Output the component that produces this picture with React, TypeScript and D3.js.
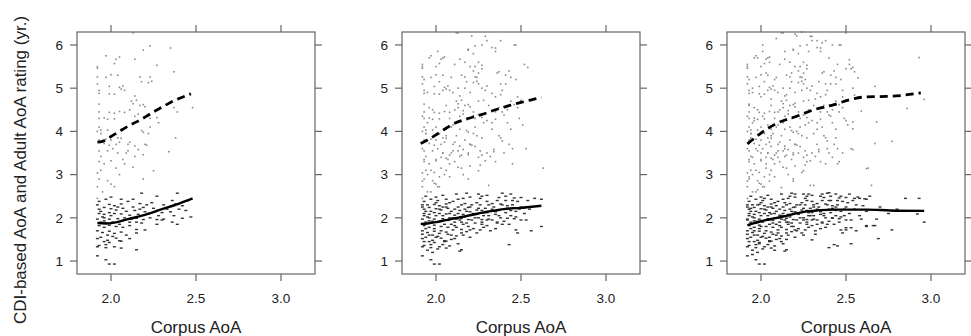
import React from "react";
import * as d3 from "d3";

type P = [number, number];

// tick labels and axis titles
const xTicks = [2.0, 2.5, 3.0];
const yTicks = [1, 2, 3, 4, 5, 6];
const xTitle = "Corpus AoA";
const yTitle = "CDI-based AoA and Adult AoA rating (yr.)";

// adult AoA ratings (grey dots), panel 1
const adultBase: P[] = [
  [2.23,5.98],[2.19,5.88],[2.35,5.93],[1.97,5.75],[2.05,5.72],[2.03,5.67],[2.14,5.67],[1.92,5.5],[2.02,5.57],[2.27,5.53],
  [2.37,5.38],[1.92,5.26],[1.97,5.25],[2.0,5.31],[2.04,5.3],[2.17,5.26],[2.23,5.26],[1.92,5.1],[1.99,5.04],[2.05,5.02],
  [2.06,4.98],[2.07,5.05],[2.08,4.95],[2.18,5.15],[2.22,5.13],[2.24,5.16],[1.93,4.88],[1.99,4.87],[2.02,4.86],[2.14,4.82],
  [1.93,4.63],[2.12,4.7],[2.15,4.72],[2.13,4.64],[2.17,4.6],[2.19,4.62],[2.2,4.57],[2.37,4.55],[2.48,4.55],[2.39,4.45],
  [1.93,4.45],[1.99,4.44],[2.02,4.42],[2.05,4.46],[2.08,4.44],[2.11,4.5],[2.14,4.35],[2.16,4.4],[1.93,4.3],[1.96,4.31],
  [1.98,4.28],[2.02,4.29],[2.22,4.36],[2.23,4.3],[2.27,4.32],[2.23,4.1],[2.28,4.2],[1.93,4.1],[1.94,4.03],[1.98,4.03],
  [2.06,4.05],[2.09,4.1],[2.18,4.02],[2.19,3.98],[2.22,3.95],[2.38,3.85],[1.93,3.8],[1.97,3.82],[2.0,3.8],[1.96,3.72],
  [1.99,3.68],[2.04,3.85],[2.06,3.84],[2.05,3.75],[2.11,3.75],[2.14,3.66],[2.03,3.7],[2.1,3.7],[2.2,3.7],[2.21,3.68],
  [1.92,3.04],[1.93,2.9],[1.98,2.86],[1.92,2.72],[2.02,2.72],[2.19,2.9],[2.25,3.09],[2.13,3.17],[2.07,3.35],[1.94,3.42],
  [1.98,3.55],[2.04,3.5],[2.14,3.42],[2.19,3.46],[2.09,3.5],[2.34,3.53],[1.94,3.1],[2.03,3.15],[2.16,3.58],[1.96,3.25],
  [1.93,3.3],[2.0,3.32],[2.05,3.0],[1.95,2.6],[1.92,2.45],[2.0,2.78],[2.1,3.55],[2.01,3.6],[1.93,3.55],[2.08,3.25],
  [1.92,5.46],[1.93,4.95],[1.92,4.0],[1.94,3.95],[2.13,6.28],
];

// CDI-based AoA (dark dashes), panel 1
const cdiBase: P[] = [
  [2.18,2.57],[2.27,2.5],[2.39,2.57],[1.97,2.43],[2.06,2.43],[2.13,2.43],[1.92,2.3],[1.99,2.31],[2.02,2.28],[2.06,2.32],
  [2.17,2.33],[2.21,2.3],[2.24,2.35],[2.31,2.3],[2.38,2.32],[2.42,2.28],[1.93,2.2],[1.96,2.24],[2.0,2.21],[2.03,2.18],
  [2.07,2.22],[2.14,2.17],[2.17,2.2],[2.2,2.14],[2.27,2.17],[2.3,2.12],[2.35,2.14],[2.44,2.17],[1.93,2.1],[1.96,2.08],
  [1.99,2.12],[2.02,2.1],[2.06,2.09],[2.11,2.06],[2.15,1.99],[2.19,1.96],[2.23,2.0],[2.27,1.96],[2.31,1.97],[2.37,2.05],
  [1.92,1.97],[1.96,1.93],[1.99,1.97],[2.04,1.98],[2.07,1.94],[2.11,1.9],[2.15,1.9],[2.18,1.88],[2.27,1.85],[2.3,1.95],
  [2.36,1.9],[2.39,1.85],[2.42,1.99],[2.47,2.02],[1.93,1.82],[1.96,1.78],[1.99,1.83],[2.03,1.8],[2.07,1.78],[2.11,1.82],
  [2.15,1.73],[2.2,1.72],[1.92,1.7],[1.95,1.66],[1.99,1.69],[2.02,1.64],[2.06,1.67],[1.98,1.6],[2.01,1.57],[2.09,1.6],
  [2.15,1.65],[1.92,1.52],[1.94,1.55],[1.98,1.48],[2.03,1.53],[2.05,1.47],[2.11,1.52],[1.96,1.45],[1.99,1.43],[2.06,1.46],
  [1.93,1.36],[1.97,1.38],[2.15,1.26],[1.92,1.33],[1.97,1.31],[2.02,1.33],[2.06,1.3],[1.92,1.12],[1.97,1.03],[1.99,0.93],
  [2.02,0.93],[1.94,2.15],[1.95,2.02],[1.97,1.88],[2.0,2.05],[2.01,1.9],[2.04,2.25],[2.05,1.85],[2.08,2.0],[2.09,2.15],
  [2.12,1.97],[2.13,2.25],[2.16,2.08],[2.19,2.24],[2.22,2.1],[2.25,2.22],[2.28,2.05],[2.33,2.2],[2.36,2.4],[2.4,2.2],
  [2.45,2.4],[2.1,2.38],[1.93,2.38],[2.0,2.48],[1.94,1.9],[1.96,2.0],
];

// points added in panel 2
const adultAdd2: P[] = [
  [2.21,6.21],[2.29,6.2],[2.3,6.1],[2.12,6.28],[2.46,6.0],[2.47,6.0],[2.33,5.94],[2.19,5.9],[2.04,5.7],[2.01,5.85],
  [2.35,5.85],[2.52,5.55],[2.54,5.48],[2.25,5.6],[2.23,5.5],[2.27,5.45],[2.2,5.5],[2.22,5.4],[2.25,5.35],[2.43,5.4],
  [2.41,5.3],[2.44,5.25],[2.38,5.1],[2.41,5.1],[2.25,5.1],[2.27,5.0],[2.3,5.05],[2.17,5.0],[2.2,4.9],[2.33,4.88],
  [2.35,4.8],[2.38,4.85],[2.25,4.7],[2.28,4.72],[2.44,4.7],[2.46,4.62],[2.48,4.8],[2.5,4.72],[2.13,4.55],[2.16,4.48],
  [2.35,4.45],[2.4,4.38],[2.22,4.45],[2.25,4.38],[2.51,4.15],[2.3,4.25],[2.33,4.2],[2.35,4.28],[2.42,4.2],[2.44,4.05],
  [2.24,3.9],[2.27,3.85],[2.37,3.9],[2.39,3.78],[2.43,3.7],[2.45,3.6],[2.2,3.7],[2.23,3.65],[2.26,3.55],[2.13,3.55],
  [2.15,3.45],[2.3,3.5],[2.32,3.42],[2.34,3.58],[2.25,3.4],[2.27,3.45],[2.29,3.32],[2.4,3.5],[2.45,3.25],[2.53,3.6],
  [2.63,3.15],[2.31,2.75],[2.2,3.2],[2.26,3.22],[2.04,3.5],[2.06,3.38],[2.08,3.45],[2.0,3.35],[2.03,3.4],[1.99,2.8],
  [2.01,2.72],[1.97,3.1],[1.99,3.05],[2.08,2.95],[1.92,5.55],[1.93,5.2],[1.95,4.9],[1.96,4.55],[1.92,4.35],[1.95,4.2],
  [1.94,3.95],[1.92,3.6],[1.93,3.35],[1.95,3.0],[1.92,2.85],[1.97,2.6],[2.0,5.5],[2.02,5.15],[2.04,4.95],[2.06,4.6],
  [2.08,4.3],[2.1,4.9],[2.09,5.25],[2.11,5.55],[2.13,5.0],[2.15,5.3],[2.17,5.6],[2.1,4.15],[2.12,3.9],[2.0,4.1],
  [2.02,3.95],[1.98,4.5],[2.06,3.9],[2.14,4.05],[2.18,4.3],[2.17,3.8],[2.19,3.5],[2.11,3.3],[2.15,3.15],[2.06,3.1],
  [2.02,2.95],[2.22,5.8],[2.24,5.25],[2.29,4.95],[2.31,4.6],[2.33,4.05],[2.36,5.35],[2.39,4.95],[2.42,4.5],[2.47,5.2],
  [2.49,4.3],[2.38,6.1],[2.27,6.0],[1.96,5.7],[2.16,3.0],[2.35,3.3],
];

const cdiAdd2: P[] = [
  [2.37,2.47],[2.41,2.5],[2.46,2.46],[2.5,2.47],[2.62,2.43],[2.62,1.8],[2.5,1.95],[2.47,1.72],[2.48,1.65],[2.43,1.38],
  [2.14,1.23],[2.16,2.45],[2.2,2.48],[2.26,2.45],[2.3,2.38],[2.33,2.33],[2.0,2.35],[2.02,2.2],[2.04,2.05],[2.05,1.95],
  [2.06,2.25],[2.08,2.1],[2.09,1.85],[2.1,2.0],[2.11,2.2],[2.12,1.78],[2.13,2.1],[2.14,1.95],[2.15,2.3],[2.16,1.85],
  [2.17,2.02],[2.18,2.15],[2.19,1.8],[2.2,2.25],[2.21,1.95],[2.22,2.08],[2.23,1.88],[2.24,2.18],[2.25,2.0],[2.26,2.3],
  [2.27,1.9],[2.28,2.12],[2.29,2.22],[2.3,1.82],[2.31,2.05],[2.32,2.15],[2.33,1.95],[2.34,2.25],[2.35,2.08],[2.36,1.88],
  [2.37,2.18],[2.38,2.0],[2.39,2.3],[2.4,1.92],[2.41,2.12],[2.42,2.22],[2.43,1.85],[2.44,2.05],[2.45,2.3],[2.46,1.98],
  [2.47,2.15],[2.48,2.38],[2.5,2.25],[2.52,2.1],[2.54,2.4],[2.55,2.2],[2.58,2.45],[2.6,2.28],[1.92,2.25],[1.93,2.05],
  [1.94,1.75],[1.95,2.3],[1.96,1.6],[1.97,2.15],[1.98,1.92],[1.99,1.75],[2.0,1.55],[2.01,2.4],[2.03,1.7],[2.05,1.45],
  [2.07,1.62],[2.08,2.35],[2.09,1.5],[2.1,1.72],[2.12,1.58],[2.13,1.4],[2.16,1.6],[2.18,1.68],[2.2,1.55],[2.22,1.75],
  [2.24,1.65],[2.26,1.72],[2.28,1.78],[2.32,1.7],[2.35,1.75],[1.93,1.45],[1.95,1.25],[1.98,1.2],[2.01,1.28],[2.04,1.38],
  [2.08,1.35],[1.92,1.62],[1.94,2.5],[2.04,2.52],[2.12,2.55],[2.25,2.55],[2.3,2.52],[2.41,2.4],[2.44,2.55],[2.49,2.2],
  [2.53,1.95],[2.56,1.7],
];

// points added in panel 3
const adultAdd3: P[] = [
  [2.93,5.71],[2.96,4.74],[2.86,4.53],[2.77,3.77],[2.68,4.22],[2.67,3.72],[2.67,5.04],[2.62,3.14],[2.65,2.75],[2.59,4.47],
  [2.57,5.24],[2.54,3.58],[2.54,4.22],[2.54,4.06],[2.52,5.66],[2.53,5.45],[2.55,5.38],[2.55,4.84],[2.54,5.0],[2.09,6.15],
  [2.2,6.25],[2.3,6.2],[2.36,6.05],[2.42,6.0],[2.5,6.28],[2.33,6.1],[2.14,5.85],[2.28,5.85],[2.4,5.7],[2.45,5.55],
  [2.5,5.45],[2.05,5.6],[1.98,5.7],[2.03,5.35],[2.08,5.2],[2.18,5.35],[2.26,5.2],[2.34,5.15],[2.44,5.1],[2.48,4.95],
  [1.95,5.0],[2.0,4.8],[2.06,4.75],[2.1,4.45],[2.15,4.85],[2.2,4.65],[2.24,4.95],[2.28,4.5],[2.32,4.75],[2.37,4.6],
  [2.41,4.35],[2.46,4.45],[2.5,4.25],[1.93,4.6],[1.96,4.25],[2.01,4.35],[2.04,4.15],[2.07,3.95],[2.13,4.2],[2.17,4.1],
  [2.21,4.0],[2.26,4.15],[2.31,3.95],[2.36,4.1],[2.39,3.6],[2.44,3.85],[2.48,3.5],[1.94,3.85],[1.97,3.6],[2.0,3.5],
  [2.03,3.25],[2.06,3.65],[2.1,3.4],[2.14,3.6],[2.18,3.35],[2.22,3.5],[2.27,3.3],[2.33,3.7],[2.38,3.25],[2.42,3.4],
  [2.46,3.3],[2.24,3.05],[2.19,2.85],[1.95,3.4],[1.93,2.95],[1.98,2.65],[2.05,2.85],[2.12,2.7],[2.29,2.75],[2.01,6.0],
  [2.24,6.3],
];

const cdiAdd3: P[] = [
  [2.85,2.45],[2.93,2.45],[2.96,1.9],[2.92,2.09],[2.77,1.72],[2.69,1.52],[2.67,1.82],[2.66,1.82],[2.62,1.82],[2.68,1.97],
  [2.59,1.97],[2.61,2.44],[2.64,2.5],[2.55,2.45],[2.57,2.48],[2.53,1.77],[2.5,1.77],[2.53,1.4],[2.5,1.72],[2.4,1.31],
  [2.45,1.35],[2.3,1.49],[2.7,2.25],[2.75,2.1],[2.8,2.2],[2.58,2.05],[2.62,2.15],[2.56,2.3],[1.92,1.95],[1.94,2.22],
  [1.96,1.7],[1.98,2.3],[2.0,1.8],[2.02,2.45],[2.03,1.95],[2.05,2.12],[2.07,1.88],[2.09,2.28],[2.1,1.65],[2.12,2.05],
  [2.14,2.35],[2.16,1.9],[2.17,2.5],[2.19,2.1],[2.21,1.7],[2.23,2.3],[2.25,1.95],[2.27,2.4],[2.29,2.05],[2.31,2.25],
  [2.33,1.85],[2.35,2.5],[2.37,2.1],[2.38,1.78],[2.4,2.4],[2.42,2.0],[2.44,2.25],[2.46,1.9],[2.47,2.5],[2.49,2.05],
  [2.51,2.35],[2.52,2.55],[2.2,2.55],[2.28,2.55],[2.36,2.55],[2.4,2.58],[2.05,1.55],[2.15,1.5],[1.99,1.4],[2.08,1.25],
  [2.25,1.6],[2.12,1.45],[1.95,1.15],[2.18,1.8],[2.32,1.62],
];

// smoothed fits (dashed = adult, solid = CDI)
const adultFit1: P[] = [[1.92,3.75],[1.95,3.77],[2.0,3.88],[2.05,4.0],[2.1,4.12],[2.15,4.22],[2.2,4.33],[2.25,4.45],[2.3,4.56],[2.35,4.67],[2.4,4.76],[2.47,4.87]];
const cdiFit1: P[] = [[1.92,1.88],[1.97,1.87],[2.02,1.89],[2.1,1.97],[2.2,2.07],[2.3,2.2],[2.4,2.33],[2.48,2.45]];
const adultFit2: P[] = [[1.91,3.72],[1.95,3.8],[2.0,3.92],[2.05,4.05],[2.1,4.17],[2.15,4.25],[2.2,4.31],[2.25,4.37],[2.3,4.43],[2.35,4.5],[2.4,4.56],[2.45,4.62],[2.5,4.67],[2.55,4.72],[2.62,4.79]];
const cdiFit2: P[] = [[1.91,1.86],[1.95,1.87],[2.0,1.9],[2.05,1.94],[2.1,1.98],[2.15,2.02],[2.2,2.06],[2.25,2.1],[2.3,2.14],[2.35,2.17],[2.4,2.2],[2.45,2.22],[2.5,2.23],[2.55,2.25],[2.62,2.28]];
const adultFit3: P[] = [[1.92,3.71],[2.0,3.96],[2.09,4.18],[2.21,4.35],[2.31,4.5],[2.43,4.62],[2.52,4.73],[2.62,4.8],[2.74,4.81],[2.82,4.83],[2.94,4.89]];
const cdiFit3: P[] = [[1.92,1.83],[2.0,1.92],[2.13,2.03],[2.27,2.15],[2.43,2.19],[2.62,2.19],[2.76,2.17],[2.96,2.16]];

const panels = [
  { adult: adultBase, cdi: cdiBase, adultFit: adultFit1, cdiFit: cdiFit1 },
  { adult: [...adultBase, ...adultAdd2], cdi: [...cdiBase, ...cdiAdd2], adultFit: adultFit2, cdiFit: cdiFit2 },
  {
    adult: [...adultBase, ...adultAdd2, ...adultAdd3],
    cdi: [...cdiBase, ...cdiAdd2, ...cdiAdd3],
    adultFit: adultFit3,
    cdiFit: cdiFit3,
  },
];

const W = 971;
const H = 336;
const top = 32;
const bottom = 274;
const panelW = 238;
const lefts = [77, 402, 727];
const font = "'Liberation Sans', Arial, Helvetica, sans-serif";
const frameCol = "#666";

function Panel({ left, p }: { left: number; p: (typeof panels)[number] }) {
  const x = d3.scaleLinear().domain([1.8, 3.2]).range([left, left + panelW]);
  const y = d3.scaleLinear().domain([0.7, 6.3]).range([bottom, top]);
  const line = d3
    .line<P>()
    .x((d) => x(d[0]))
    .y((d) => y(d[1]))
    .curve(d3.curveMonotoneX);
  const tl = 7;

  return (
    <g>
      {/* points */}
      {p.adult.map((d, i) => (
        <rect key={"a" + i} x={x(d[0]) - 0.8} y={y(d[1]) - 0.8} width={1.6} height={1.6} fill="#8a8a8a" />
      ))}
      {p.cdi.map((d, i) => (
        <rect key={"c" + i} x={x(d[0]) - 1.5} y={y(d[1]) - 0.7} width={3} height={1.4} fill="#333" />
      ))}
      {/* fits */}
      <path d={line(p.adultFit) ?? ""} fill="none" stroke="#000" strokeWidth={2.8} strokeDasharray="8,5" />
      <path d={line(p.cdiFit) ?? ""} fill="none" stroke="#000" strokeWidth={2.4} />

      {/* frame */}
      <rect x={left} y={top} width={panelW} height={bottom - top} fill="none" stroke={frameCol} strokeWidth={1.2} />

      {/* x ticks: bottom and top */}
      {xTicks.map((t) => (
        <g key={"x" + t}>
          <line x1={x(t)} x2={x(t)} y1={bottom} y2={bottom + tl} stroke={frameCol} strokeWidth={1.2} />
          <line x1={x(t)} x2={x(t)} y1={top} y2={top - tl} stroke={frameCol} strokeWidth={1.2} />
          <text x={x(t)} y={303} textAnchor="middle" fontSize={13.5} fontFamily={font} fill="#222">
            {d3.format(".1f")(t)}
          </text>
        </g>
      ))}

      {/* y ticks: left and right */}
      {yTicks.map((t) => (
        <g key={"y" + t}>
          <line x1={left} x2={left - tl} y1={y(t)} y2={y(t)} stroke={frameCol} strokeWidth={1.2} />
          <line x1={left + panelW} x2={left + panelW + tl} y1={y(t)} y2={y(t)} stroke={frameCol} strokeWidth={1.2} />
          <text x={left - 14} y={y(t)} dy="0.35em" textAnchor="end" fontSize={13.5} fontFamily={font} fill="#222">
            {t}
          </text>
        </g>
      ))}

      <text x={left + panelW / 2} y={333} textAnchor="middle" fontSize={17} fontFamily={font} fill="#222">
        {xTitle}
      </text>
    </g>
  );
}

export default function App() {
  return (
    <svg
      width={W}
      height={H}
      style={{ position: "absolute", left: 0, top: 0, background: "#fff" }}
    >
      <rect width={W} height={H} fill="#fff" />
      {panels.map((p, i) => (
        <Panel key={i} left={lefts[i]} p={p} />
      ))}
      <text
        transform={`translate(26,170) rotate(-90)`}
        textAnchor="middle"
        fontSize={17}
        fontFamily={font}
        fill="#222"
      >
        {yTitle}
      </text>
    </svg>
  );
}
